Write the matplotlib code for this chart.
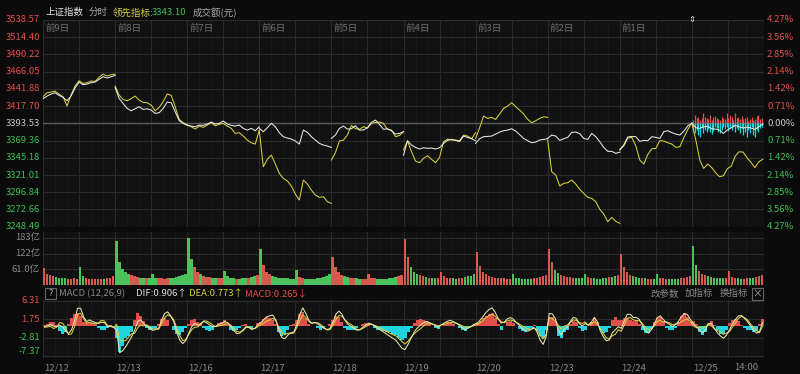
import numpy as np
import matplotlib.pyplot as plt

plt.rcParams['font.family'] = ['Noto Sans CJK SC', 'DejaVu Sans']

# ---- values ----
pre_close = 3393.53
price_ticks = [3538.57, 3514.40, 3490.22, 3466.05, 3441.88, 3417.70, 3393.53,
               3369.36, 3345.18, 3321.01, 3296.84, 3272.66, 3248.49]
pct_ticks = ['4.27%', '3.56%', '2.85%', '2.14%', '1.42%', '0.71%', '0.00%',
             '0.71%', '1.42%', '2.14%', '2.85%', '3.56%', '4.27%']
day_tags = ['前9日', '前8日', '前7日', '前6日', '前5日', '前4日', '前3日', '前2日', '前1日']
dates = ['12/12', '12/13', '12/16', '12/17', '12/18', '12/19', '12/20', '12/23', '12/24', '12/25']
vol_ticks = [183, 122, 61.0]
vol_labels = ['183亿', '122亿', '61.0亿']
macd_ticks = [6.31, 1.75, -2.81, -7.37]

# index (white) and leading indicator (yellow), 19 samples per trading day
index_line = [
    [3428.1, 3431.8, 3434.6, 3436.5, 3432.8, 3430.0, 3425.3, 3431.8, 3443.1, 3451.5, 3447.7, 3448.7, 3450.5, 3451.5, 3455.2, 3459.0, 3457.1, 3459.0, 3460.8],
    [3444.0, 3428.5, 3421.5, 3414.5, 3411.2, 3414.0, 3416.9, 3413.1, 3414.0, 3412.2, 3407.5, 3408.4, 3414.5, 3423.4, 3422.5, 3409.8, 3397.2, 3393.5, 3391.1],
    [3391.1, 3389.7, 3388.8, 3391.1, 3390.7, 3392.6, 3395.4, 3392.6, 3393.5, 3396.8, 3392.6, 3390.7, 3389.7, 3391.1, 3386.5, 3384.1, 3386.5, 3383.2, 3388.8],
    [3386.5, 3381.8, 3387.4, 3393.5, 3388.8, 3380.4, 3374.8, 3372.9, 3371.5, 3368.7, 3364.5, 3384.1, 3380.8, 3374.8, 3370.1, 3365.4, 3363.1, 3361.7, 3359.8],
    [3372.4, 3377.1, 3386.5, 3389.7, 3385.5, 3386.0, 3390.2, 3384.1, 3384.1, 3387.4, 3394.9, 3398.1, 3392.1, 3385.1, 3386.0, 3383.2, 3378.5, 3379.4, 3381.8],
    [3349.0, 3369.2, 3363.1, 3359.8, 3357.5, 3359.3, 3358.4, 3358.9, 3357.5, 3359.3, 3365.4, 3369.6, 3371.0, 3369.6, 3367.8, 3375.7, 3373.8, 3372.0, 3369.2],
    [3365.4, 3372.0, 3374.8, 3375.2, 3375.7, 3378.5, 3381.3, 3383.2, 3384.1, 3386.0, 3382.7, 3377.6, 3372.4, 3369.2, 3366.3, 3367.3, 3370.1, 3371.0, 3372.0],
    [3372.4, 3377.1, 3375.7, 3369.6, 3372.0, 3373.8, 3380.8, 3381.3, 3379.0, 3372.4, 3371.0, 3379.4, 3374.8, 3367.8, 3359.8, 3354.2, 3354.2, 3351.4, 3353.2],
    [3356.1, 3363.5, 3374.3, 3375.2, 3374.8, 3368.2, 3369.6, 3369.2, 3374.8, 3373.8, 3372.4, 3381.8, 3383.2, 3380.4, 3378.5, 3377.1, 3382.7, 3390.2, 3393.5],
    [3393.5, 3387.4, 3386.5, 3388.8, 3389.3, 3386.0, 3385.5, 3384.1, 3379.4, 3384.1, 3387.4, 3390.7, 3388.8, 3386.9, 3388.3, 3386.9, 3385.1, 3388.8, 3392.5],
]
lead_line = [
    [3430.9, 3436.5, 3437.4, 3438.8, 3434.6, 3430.9, 3417.8, 3433.2, 3445.9, 3453.3, 3449.6, 3450.5, 3452.9, 3452.4, 3458.0, 3462.7, 3459.9, 3461.8, 3462.7],
    [3445.9, 3433.2, 3427.1, 3425.3, 3428.1, 3431.8, 3426.2, 3422.9, 3422.5, 3419.2, 3411.2, 3415.9, 3423.9, 3434.6, 3432.8, 3416.9, 3399.1, 3394.4, 3391.1],
    [3391.1, 3388.8, 3385.5, 3389.7, 3387.9, 3391.1, 3394.4, 3390.2, 3392.1, 3393.5, 3389.7, 3386.5, 3379.4, 3380.4, 3375.7, 3370.1, 3366.3, 3364.5, 3384.1],
    [3383.2, 3332.7, 3343.0, 3349.0, 3336.4, 3323.3, 3316.3, 3312.6, 3305.6, 3294.3, 3285.9, 3314.0, 3308.4, 3299.9, 3292.9, 3289.7, 3290.6, 3283.6, 3281.2],
    [3342.0, 3352.3, 3368.7, 3370.1, 3377.1, 3390.7, 3386.0, 3385.1, 3388.8, 3386.9, 3393.5, 3394.9, 3395.4, 3393.5, 3385.1, 3384.1, 3374.8, 3376.6, 3381.8],
    [3356.1, 3368.7, 3353.7, 3340.6, 3338.3, 3344.4, 3348.1, 3343.0, 3338.3, 3345.8, 3367.8, 3371.5, 3370.1, 3370.1, 3369.2, 3377.1, 3375.7, 3372.0, 3380.4],
    [3372.4, 3387.4, 3403.8, 3400.5, 3401.9, 3399.1, 3406.6, 3414.5, 3417.8, 3422.5, 3416.9, 3412.2, 3406.6, 3399.1, 3394.4, 3397.2, 3400.5, 3402.8, 3401.9],
    [3370.1, 3325.7, 3321.0, 3305.6, 3309.3, 3310.2, 3314.0, 3308.4, 3300.9, 3295.2, 3289.7, 3288.2, 3283.6, 3272.8, 3266.3, 3255.5, 3261.6, 3256.0, 3253.2],
    [3357.0, 3361.7, 3372.9, 3373.8, 3361.7, 3342.0, 3336.4, 3350.0, 3357.9, 3358.4, 3369.2, 3368.7, 3366.3, 3364.5, 3359.8, 3360.7, 3373.8, 3385.1, 3394.4],
    [3393.5, 3370.1, 3342.0, 3330.3, 3336.4, 3331.7, 3324.3, 3318.6, 3320.0, 3329.9, 3333.6, 3347.6, 3353.7, 3353.2, 3345.3, 3338.8, 3331.3, 3339.7, 3343.1],
]
# today's buy / sell strength bars around the previous close (points)
buy_power = [4.7, 11.7, 7.0, 9.4, 4.7, 7.0, 14.0, 9.4, 7.0, 5.6, 11.7, 4.7, 8.4, 10.3, 7.0, 5.6, 4.7, 9.4, 7.0, 5.6, 14.0,
             7.0, 11.7, 8.4, 4.7, 15.0, 7.0, 9.4, 5.6, 10.3, 5.6, 7.0, 9.4, 3.7, 6.5, 8.4, 4.7, 5.6, 10.3, 11.7, 5.6, 7.0]
sell_power = [11.7, 14.0, 9.4, 16.4, 18.7, 7.0, 14.0, 9.4, 11.7, 8.4, 11.7, 15.0, 10.3, 4.7, 7.0, 11.7, 13.1, 9.4, 5.6, 8.4, 4.7,
              10.3, 7.0, 9.4, 4.7, 11.7, 7.0, 9.4, 14.0, 7.0, 16.4, 11.7, 19.6, 9.4, 14.0, 4.7, 16.4, 18.7, 9.4, 11.7, 7.0, 4.7]

# turnover, 亿元, 24 bars per day
turnover = [
    [65, 45, 38, 34, 31, 29, 28, 27, 26, 25, 27, 26, 70, 34, 28, 26, 25, 24, 24, 25, 26, 27, 30, 34],
    [170, 90, 62, 50, 42, 38, 35, 32, 30, 30, 29, 28, 45, 30, 28, 27, 26, 27, 28, 30, 33, 36, 40, 44],
    [183, 100, 70, 52, 42, 36, 33, 32, 30, 29, 28, 27, 55, 34, 30, 28, 26, 26, 27, 28, 30, 32, 35, 38],
    [140, 80, 52, 42, 36, 32, 30, 29, 28, 27, 26, 26, 60, 33, 28, 26, 25, 25, 26, 28, 30, 33, 36, 42],
    [110, 70, 50, 40, 35, 32, 30, 28, 27, 26, 25, 25, 45, 30, 27, 25, 24, 24, 25, 27, 29, 31, 34, 38],
    [180, 110, 70, 52, 44, 38, 35, 32, 30, 29, 28, 28, 50, 34, 30, 28, 27, 26, 27, 29, 31, 34, 37, 42],
    [130, 75, 52, 42, 36, 33, 30, 29, 28, 27, 26, 26, 42, 30, 27, 26, 25, 25, 26, 27, 29, 31, 34, 38],
    [140, 90, 60, 46, 40, 36, 33, 31, 30, 29, 28, 28, 45, 32, 29, 27, 26, 26, 27, 29, 31, 33, 36, 40],
    [120, 70, 50, 40, 35, 32, 30, 28, 27, 26, 25, 25, 45, 30, 27, 25, 24, 24, 25, 26, 28, 30, 33, 36],
    [150, 80, 55, 44, 38, 34, 32, 30, 29, 28, 27, 27, 55, 32, 29, 27, 26, 26, 27, 28, 30, 32, 34, 40],
]

# MACD(12,26,9): DIF line and MACD bars, 24 samples per day
dif = [
    [-0.1, 0.1, 0.5, 0.0, -0.1, 0.3, -0.1, -1.1, -1.8, -0.9, 1.4, 4.5, 4.5, 2.4, 1.2, 1.6, 1.2, 0.9, 0.7, 1.0, 0.9, -0.1, 0.1, -0.2],
    [-1.0, -6.6, -6.1, -5.1, -3.9, -2.6, -1.0, 1.2, 1.6, 0.7, 0.1, -0.5, -1.0, -0.8, -0.5, 1.6, 3.2, 3.6, 2.6, 1.2, -1.4, -3.4, -4.3, -3.6],
    [-1.8, -0.1, 0.7, 0.3, 0.7, 1.2, 0.9, 0.3, -0.1, 0.0, 0.5, 0.7, 1.2, 0.9, -0.1, -1.0, -1.8, -1.7, -1.0, -0.1, -0.3, -0.8, -0.5, 0.3],
    [0.9, 1.7, 2.4, 2.6, 2.8, 1.6, -1.0, -2.8, -3.1, -2.2, -1.6, -1.4, 0.5, 3.0, 4.6, 3.2, 1.5, 0.8, 1.0, 0.6, 0.0, -0.5, -0.8, -0.6],
    [1.0, 3.0, 3.8, 3.0, 1.5, 0.5, 0.0, -0.5, -1.0, -0.8, -0.2, 0.3, 0.8, 0.5, 0.0, -0.5, -1.0, -1.5, -2.0, -2.5, -3.0, -3.5, -4.5, -5.5],
    [-5.8, -4.5, -3.0, -1.5, -0.5, 0.2, 0.8, 1.2, 1.0, 0.6, 0.2, -0.2, 0.3, 0.8, 1.2, 1.5, 1.2, 0.8, 0.3, -0.3, -0.8, -0.5, 0.0, 0.5],
    [0.8, 1.5, 2.5, 3.5, 4.2, 4.6, 3.5, 2.0, 0.8, 1.0, 1.8, 2.2, 1.8, 1.0, 0.3, -0.5, -1.0, -1.2, -0.8, -0.3, -1.5, -3.5, -4.5, -2.5],
    [3.2, 3.1, 2.0, -0.9, -2.2, -0.7, -0.2, 1.2, 2.2, 2.0, 0.7, 0.1, 0.7, 0.3, 1.0, 2.2, 1.2, -1.1, -2.6, -3.6, -3.4, -1.6, -0.9, -0.1],
    [-0.5, 1.4, 3.0, 3.0, 2.2, 2.2, 1.7, 0.3, -1.1, -1.7, -0.9, 0.6, 2.2, 2.6, 1.7, 0.9, 0.5, -0.1, 0.4, 1.2, 2.4, 3.2, 2.9, 1.7],
    [0.7, -0.1, -0.9, -1.6, -0.9, 0.7, 0.7, -0.5, -1.6, -2.4, -3.0, -2.2, -0.9, 0.6, 1.7, 2.6, 2.7, 2.0, 1.2, 0.1, -0.9, -1.7, -1.3, 0.9],
]
macd_bar = [
    [0.3, 0.5, 1.0, 1.1, 0.3, -1.2, -1.8, -1.5, 0.5, 2.0, 3.0, 3.2, 2.5, 1.0, 0.8, 1.1, 0.9, 0.6, -0.4, -1.0, -0.8, -0.5, 0.3, 0.2],
    [-3.0, -6.3, -5.0, -3.0, -2.5, -1.5, 1.5, 3.2, 2.5, 1.2, -0.5, -0.8, -0.6, -0.4, 0.5, 1.8, 2.0, 1.5, 0.2, -1.0, -2.0, -2.2, -1.5, -0.5],
    [0.5, 1.5, 1.8, 1.0, 0.5, -0.3, -0.8, -1.2, -0.8, 0.2, 0.8, 1.0, 1.5, 0.5, -0.8, -1.2, -1.0, -0.5, 0.3, 0.5, -0.3, -0.6, 0.2, 0.8],
    [1.0, 1.8, 2.2, 2.0, 1.6, 0.5, -1.5, -2.5, -2.0, -1.0, 0.3, 0.6, 1.5, 3.0, 3.6, 2.0, 0.6, 0.2, 0.2, -0.5, -0.8, -0.4, 0.2, 0.5],
    [1.5, 2.6, 2.2, 1.0, -0.3, -0.8, -1.0, -0.8, -0.5, 0.2, 0.6, 0.8, 0.6, 0.1, -0.4, -0.8, -1.0, -1.2, -1.4, -1.5, -1.8, -2.2, -2.8, -3.4],
    [-2.8, -1.5, -0.5, 0.8, 1.5, 1.8, 1.6, 1.2, 0.6, 0.0, -0.4, -0.6, 0.0, 0.6, 1.0, 1.1, 0.6, 0.0, -0.5, -0.9, -1.1, -0.5, 0.2, 0.6],
    [0.8, 1.2, 2.0, 2.6, 3.0, 3.2, 2.0, 0.5, -0.8, 0.2, 1.0, 1.2, 0.8, 0.0, -0.6, -1.2, -1.4, -1.0, -0.3, 0.3, -1.2, -2.4, -2.8, -1.0],
    [2.0, 2.4, 1.2, -2.5, -3.0, -1.5, -1.0, 0.5, 1.2, 1.0, -0.5, -1.2, -0.8, 0.2, 1.0, 2.0, 1.0, -1.0, -1.6, -1.5, -0.5, 1.5, 2.2, 1.5],
    [1.5, 2.0, 2.0, 1.6, 1.2, 1.5, 0.6, -0.8, -1.7, -1.6, -0.6, 1.0, 2.0, 2.2, 1.2, -0.4, -0.8, -0.9, -0.3, 1.0, 2.5, 3.2, 2.2, 1.0],
    [1.2, 0.5, -1.5, -2.2, -1.5, 0.5, 1.2, 0.3, -1.0, -2.0, -2.0, -1.0, 0.8, 1.6, 1.8, 1.2, 0.4, -0.3, -0.9, -1.0, -1.3, -1.2, 0.5, 1.8],
]

# ---- colours ----
BG = '#0b0b0b'
PANEL = '#111111'
GRID = '#2a2a2a'
GRID2 = '#1b1b1b'
RED = '#e0504a'
VRED = '#d65a50'
VGREEN = '#4cc25a'
GREEN = '#3dbf55'
CYAN = '#1fd3e0'
YELLOW = '#d9d13e'
WHITE = '#e8e8e8'
GRAY = '#8a8a8a'

W, H = 800, 374
fig = plt.figure(figsize=(W / 100, H / 100), dpi=100, facecolor=BG)


def panel(x0, y0, x1, y1):
    ax = fig.add_axes([x0 / W, 1 - y1 / H, (x1 - x0) / W, (y1 - y0) / H])
    ax.set_facecolor(PANEL)
    ax.set_xlim(0, 2400)
    ax.set_xticks([])
    ax.set_yticks([])
    for s in ax.spines.values():
        s.set_visible(False)
    return ax


def txt(x, y, s, color, ha='left', size=6.8, **kw):
    fig.text(x / W, 1 - y / H, s, color=color, ha=ha, va='center', fontsize=size, **kw)


def vgrid(ax):
    for d in range(10):
        step = 60 if d == 9 else 40
        for m in range(0, 240, step):
            ax.axvline(d * 240 + m, color=GRID2, lw=0.6, zorder=0)
        ax.axvline(d * 240, color=GRID, lw=0.8, zorder=0)
        ax.axvline(d * 240 + 120, color=GRID, lw=0.8, zorder=0)


n_days = len(index_line)

# ---- price panel ----
ax = panel(43, 20, 764, 226.7)
ax.set_ylim(price_ticks[-1], price_ticks[0])
vgrid(ax)
for v in price_ticks:
    ax.axhline(v, color=GRID, lw=0.8, zorder=0)
ax.axhline(pre_close, color='#5a5a5a', lw=1.0, zorder=1)

xs_today = np.linspace(5, 232, len(buy_power)) + 9 * 240
ax.vlines(xs_today, pre_close, pre_close + np.array(buy_power), color=RED, lw=0.9, zorder=2)
ax.vlines(xs_today, pre_close - np.array(sell_power), pre_close, color=CYAN, lw=0.9, zorder=2)

for d in range(n_days):
    end = 236 if d == 9 else 240
    xs = np.linspace(d * 240, d * 240 + end, len(index_line[d]))
    ax.plot(xs, lead_line[d], color=YELLOW, lw=0.75, zorder=3)
    ax.plot(xs, index_line[d], color=WHITE, lw=0.75, zorder=4)

for i, v in enumerate(price_ticks):
    y = 20 + i * (206.7 / 12)
    c = RED if v > pre_close else (GREEN if v < pre_close else '#c8c8c8')
    txt(40, y, f'{v:.2f}', c, ha='right')
    txt(767, y, pct_ticks[i], c)
for d, tag in enumerate(day_tags):
    txt(45 + d * 72.1, 29.5, tag, '#6e6e6e')
txt(692, 19, '⇕', '#dddddd', ha='center', size=6)

# header
txt(45, 12.7, '上证指数', '#e6e6e6')
txt(89, 12.7, '分时', '#aaaaaa')
txt(113, 12.7, '领先指标:', YELLOW)
txt(152, 12.7, '3343.10', GREEN)
txt(193, 12.7, '成交额(元)', '#aaaaaa')

# ---- turnover panel ----
axv = panel(43, 231.5, 764, 285.3)
axv.set_ylim(0, 207)
vgrid(axv)
for v in vol_ticks:
    axv.axhline(v, color=GRID, lw=0.8, zorder=0)
for d in range(n_days):
    nb = len(turnover[d])
    edges = d * 240 + np.arange(nb + 1) * 240 / nb
    px = np.linspace(d * 240, d * 240 + 240, len(index_line[d]))
    p0 = np.interp(edges[:-1], px, index_line[d])
    p1 = np.interp(edges[1:], px, index_line[d])
    cols = [VRED if b >= a else VGREEN for a, b in zip(p0, p1)]
    axv.bar(edges[:-1], turnover[d], width=240 / nb * 0.8, align='edge', color=cols, lw=0, zorder=2)
for v, lab in zip(vol_ticks, vol_labels):
    txt(40, 285.3 - v * 47.6 / 183, lab, GRAY, ha='right')

# ---- MACD header ----
fig.patches.append(plt.Rectangle((45 / W, 1 - 299 / H), 11 / W, 11 / H, transform=fig.transFigure,
                                 fill=False, ec='#666666', lw=0.8))
txt(50.5, 293.5, '?', '#bbbbbb', ha='center', size=6.5)
txt(59, 293.5, 'MACD (12,26,9)', GRAY)
txt(136, 293.5, 'DIF:0.906↑', '#e0e0e0')
txt(189, 293.5, 'DEA:0.773↑', YELLOW)
txt(245, 293.5, 'MACD:0.265↓', RED)
txt(650, 293.5, '改参数', GRAY)
txt(685, 293.5, '加指标', GRAY)
txt(720, 293.5, '换指标', GRAY)
fig.patches.append(plt.Rectangle((752 / W, 1 - 299.5 / H), 11 / W, 12 / H, transform=fig.transFigure,
                                 fill=False, ec='#666666', lw=0.8))
txt(757.5, 293.5, '×', '#aaaaaa', ha='center', size=7)

# ---- MACD panel ----
axm = panel(43, 300, 764, 357.5)
axm.set_ylim(-7.78, 6.56)
vgrid(axm)
for v in macd_ticks:
    axm.axhline(v, color=GRID, lw=0.8, zorder=0)
xs_m = np.concatenate([d * 240 + 5 + np.arange(len(dif[d])) * 10 for d in range(n_days)])
dif_all = np.concatenate(dif)
bar_all = np.concatenate(macd_bar)
dea_all = dif_all - bar_all / 2
axm.bar(xs_m, bar_all, width=10, color=[RED if b >= 0 else CYAN for b in bar_all], lw=0, zorder=2)
axm.plot(xs_m, dea_all, color=YELLOW, lw=0.75, zorder=3)
axm.plot(xs_m, dif_all, color='#e6e6b0', lw=0.75, zorder=4)
for v, y in zip(macd_ticks, [300.7, 319.3, 337.3, 351.5]):
    txt(40, y, f'{v:.2f}', RED if v > 0 else GREEN, ha='right')

# ---- date axis ----
for d, lab in enumerate(dates):
    txt(44 + d * 72.1, 368, lab, GRAY)
txt(746, 368, '14:00', GRAY, ha='center')

fig.savefig('out.png', dpi=100, facecolor=BG)
